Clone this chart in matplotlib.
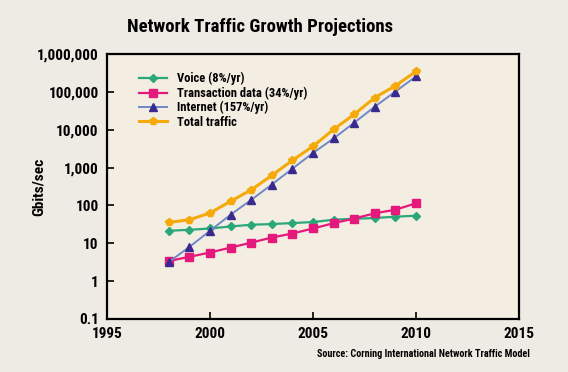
import numpy as np
from matplotlib import pyplot as plt
from matplotlib.ticker import FixedLocator, FuncFormatter

plt.rcParams['font.family'] = ['Roboto Condensed', 'Liberation Sans Narrow', 'Liberation Sans', 'DejaVu Sans']

# data (Gbits/sec)
years = list(range(1998, 2011))
voice = [21.4, 22.7, 24.6, 27.8, 30.9, 32.2, 34.2, 36.4, 41.9, 44.5, 46.5, 50.4, 53.5]
transaction = [3.4, 4.4, 5.7, 7.7, 10.4, 14.2, 18.1, 24.6, 34, 45, 62, 77, 114]
internet = [3.2, 8.0, 21.4, 57, 140, 357, 935, 2430, 5880, 15300, 40700, 102000, 255000]
total = [35.5, 41.9, 63, 129, 258, 620, 1550, 3660, 10200, 25500, 70500, 145000, 347000]

labels = ["Voice (8%/yr)", "Transaction data (34%/yr)", "Internet (157%/yr)", "Total traffic"]
ytick_vals = [0.1, 1, 10, 100, 1000, 10000, 100000, 1000000]
xtick_vals = [1995, 2000, 2005, 2010, 2015]

fig = plt.figure(figsize=(5.68, 3.72), dpi=100, facecolor="#eeebe4")
ax = fig.add_axes([0.1884, 0.1425, 0.7253, 0.7123], facecolor="#f4ede2")

ax.plot(years, voice, color="#2aa87a", marker="D", ms=4, lw=1.6, label=labels[0])
ax.plot(years, transaction, color="#e5197b", marker="s", ms=5.5, lw=1.6, label=labels[1])
ax.plot(years, internet, color="#6f88c8", marker="^", ms=5.5, lw=1.4,
        mfc="#3b2a8e", mec="#3b2a8e", label=labels[2])
ax.plot(years, total, color="#f5aa0a", marker="p", ms=5.5, lw=2.2, label=labels[3])

ax.set_yscale("log")
ax.set_ylim(0.1, 1000000)
ax.set_xlim(1995, 2015)
ax.yaxis.set_major_locator(FixedLocator(ytick_vals))
ax.yaxis.set_minor_locator(FixedLocator([]))
ax.yaxis.set_major_formatter(FuncFormatter(lambda v, p: f"{v:,.0f}" if v >= 1 else f"{v:g}"))
ax.set_xticks(xtick_vals)

ax.tick_params(direction="in", length=5, width=1.2, labelsize=11, pad=6)
for s in ax.spines.values():
    s.set_linewidth(1.6)

ax.set_ylabel("Gbits/sec", fontsize=11, fontweight="bold")
ax.yaxis.set_label_coords(-0.148, 0.5)
for t in ax.get_xticklabels() + ax.get_yticklabels():
    t.set_fontweight("bold")

fig.text(0.458, 0.928, "Network Traffic Growth Projections", ha="center", va="center",
         fontsize=13.5, fontweight="bold")
fig.text(0.933, 0.048, "Source: Corning International Network Traffic Model",
         ha="right", va="center", fontsize=7.3, fontweight="bold")

leg = ax.legend(loc="upper left", bbox_to_anchor=(0.06, 0.96), frameon=False,
                fontsize=9, handlelength=2.2, labelspacing=0.1, borderaxespad=0.2)
for t in leg.get_texts():
    t.set_fontweight("bold")

fig.savefig("out.png", dpi=100, facecolor=fig.get_facecolor())
